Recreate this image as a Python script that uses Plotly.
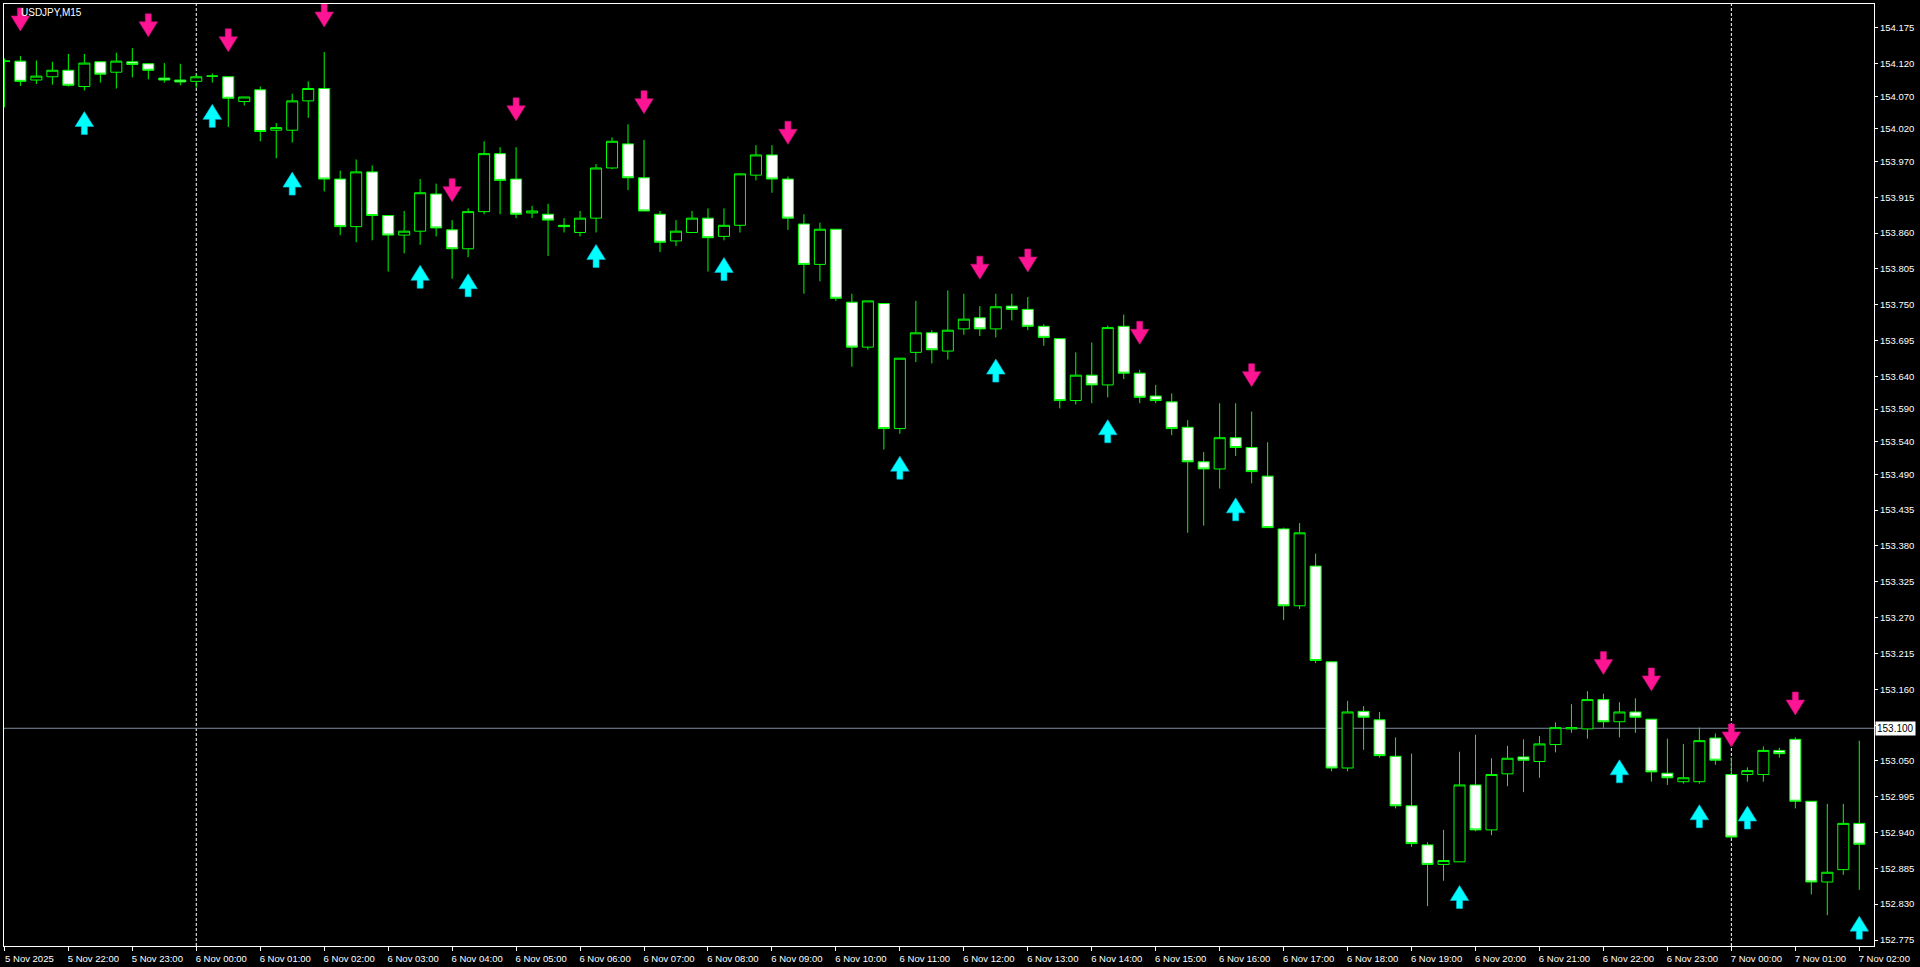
import plotly.graph_objects as go

# ---------------- data ----------------
time_labels = [
    "5 Nov 2025", "5 Nov 22:00", "5 Nov 23:00",
    "6 Nov 00:00", "6 Nov 01:00", "6 Nov 02:00", "6 Nov 03:00", "6 Nov 04:00", "6 Nov 05:00",
    "6 Nov 06:00", "6 Nov 07:00", "6 Nov 08:00", "6 Nov 09:00", "6 Nov 10:00", "6 Nov 11:00",
    "6 Nov 12:00", "6 Nov 13:00", "6 Nov 14:00", "6 Nov 15:00", "6 Nov 16:00", "6 Nov 17:00",
    "6 Nov 18:00", "6 Nov 19:00", "6 Nov 20:00", "6 Nov 21:00", "6 Nov 22:00", "6 Nov 23:00",
    "7 Nov 00:00", "7 Nov 01:00", "7 Nov 02:00",
]
bars_per_label = 4
day_start_bars = [12, 108]

opens = [
    154.124, 154.124, 154.095, 154.100, 154.110, 154.085, 154.123, 154.107, 154.123, 154.120,
    154.098, 154.095, 154.093, 154.101, 154.100, 154.062, 154.080, 154.018, 154.018, 154.063,
    154.082, 153.943, 153.870, 153.954, 153.887, 153.857, 153.863, 153.920, 153.865, 153.836,
    153.893, 153.982, 153.943, 153.891, 153.889, 153.872, 153.861, 153.883, 153.960, 153.997,
    153.945, 153.889, 153.848, 153.861, 153.883, 153.855, 153.872, 153.949, 153.980, 153.943,
    153.874, 153.812, 153.866, 153.754, 153.685, 153.752, 153.560, 153.677, 153.707, 153.679,
    153.713, 153.730, 153.713, 153.748, 153.743, 153.717, 153.698, 153.603, 153.642, 153.627,
    153.717, 153.645, 153.610, 153.601, 153.562, 153.509, 153.498, 153.546, 153.531, 153.487,
    153.406, 153.288, 153.349, 153.202, 153.039, 153.126, 153.113, 153.057, 152.981, 152.921,
    152.891, 152.895, 153.013, 152.944, 153.030, 153.056, 153.049, 153.075, 153.099, 153.099,
    153.144, 153.110, 153.125, 153.114, 153.031, 153.018, 153.018, 153.085, 153.029, 153.029,
    153.029, 153.066, 153.083, 152.988, 152.864, 152.883, 152.954,
]
highs = [
    154.128, 154.132, 154.125, 154.123, 154.135, 154.135, 154.124, 154.137, 154.144, 154.121,
    154.121, 154.120, 154.104, 154.105, 154.100, 154.069, 154.085, 154.029, 154.074, 154.093,
    154.138, 153.956, 153.973, 153.964, 153.887, 153.894, 153.943, 153.936, 153.880, 153.898,
    154.001, 153.992, 153.992, 153.902, 153.905, 153.883, 153.894, 153.966, 154.007, 154.027,
    154.003, 153.894, 153.880, 153.894, 153.898, 153.898, 153.952, 153.995, 153.995, 153.947,
    153.889, 153.876, 153.866, 153.767, 153.756, 153.752, 153.668, 153.756, 153.711, 153.772,
    153.767, 153.748, 153.767, 153.767, 153.762, 153.720, 153.698, 153.677, 153.692, 153.718,
    153.735, 153.650, 153.627, 153.614, 153.573, 153.524, 153.599, 153.599, 153.586, 153.539,
    153.408, 153.415, 153.368, 153.202, 153.142, 153.134, 153.125, 153.086, 153.061, 152.925,
    152.944, 153.064, 153.090, 153.054, 153.073, 153.083, 153.088, 153.109, 153.137, 153.157,
    153.153, 153.140, 153.146, 153.114, 153.084, 153.076, 153.101, 153.092, 153.055, 153.040,
    153.072, 153.070, 153.086, 152.988, 152.984, 152.984, 153.081,
]
lows = [
    154.053, 154.086, 154.089, 154.088, 154.085, 154.079, 154.091, 154.082, 154.099, 154.096,
    154.091, 154.087, 154.083, 154.091, 154.023, 154.056, 154.001, 153.975, 153.999, 154.037,
    153.924, 153.857, 153.846, 153.849, 153.801, 153.829, 153.842, 153.855, 153.790, 153.823,
    153.889, 153.889, 153.883, 153.883, 153.825, 153.861, 153.855, 153.861, 153.958, 153.926,
    153.894, 153.831, 153.840, 153.861, 153.801, 153.849, 153.861, 153.941, 153.922, 153.865,
    153.767, 153.786, 153.756, 153.655, 153.681, 153.528, 153.552, 153.662, 153.660, 153.666,
    153.704, 153.702, 153.700, 153.726, 153.711, 153.687, 153.591, 153.597, 153.599, 153.608,
    153.636, 153.599, 153.599, 153.550, 153.400, 153.411, 153.468, 153.518, 153.476, 153.408,
    153.266, 153.283, 153.200, 153.034, 153.034, 153.067, 153.055, 152.977, 152.918, 152.827,
    152.866, 152.895, 152.942, 152.936, 153.011, 153.002, 153.024, 153.063, 153.093, 153.084,
    153.101, 153.086, 153.093, 153.018, 153.013, 153.015, 153.015, 153.044, 152.931, 153.018,
    153.018, 153.055, 152.977, 152.845, 152.813, 152.875, 152.852,
]
closes = [
    154.124, 154.093, 154.101, 154.110, 154.087, 154.121, 154.104, 154.124, 154.119, 154.110,
    154.095, 154.092, 154.100, 154.101, 154.067, 154.069, 154.016, 154.022, 154.063, 154.082,
    153.943, 153.870, 153.954, 153.887, 153.857, 153.863, 153.922, 153.868, 153.836, 153.893,
    153.982, 153.941, 153.889, 153.894, 153.880, 153.870, 153.883, 153.960, 154.001, 153.945,
    153.894, 153.846, 153.863, 153.883, 153.853, 153.872, 153.951, 153.980, 153.943, 153.883,
    153.812, 153.866, 153.760, 153.685, 153.756, 153.560, 153.668, 153.707, 153.681, 153.711,
    153.728, 153.713, 153.747, 153.743, 153.717, 153.700, 153.603, 153.642, 153.627, 153.715,
    153.645, 153.608, 153.603, 153.560, 153.509, 153.498, 153.546, 153.531, 153.494, 153.408,
    153.288, 153.400, 153.204, 153.039, 153.125, 153.117, 153.058, 152.981, 152.923, 152.891,
    152.897, 153.013, 152.944, 153.029, 153.054, 153.051, 153.076, 153.101, 153.101, 153.144,
    153.110, 153.125, 153.117, 153.033, 153.024, 153.024, 153.081, 153.051, 152.933, 153.035,
    153.066, 153.061, 152.988, 152.864, 152.879, 152.954, 152.922,
]

sell_bars = [1, 9, 14, 20, 28, 32, 40, 49, 61, 64, 71, 78, 100, 103, 108, 112]
sell_levels = [154.188, 154.179, 154.156, 154.194, 153.926, 154.050, 154.061, 154.014,
               153.807, 153.818, 153.707, 153.642, 153.200, 153.175, 153.089, 153.138]
buy_bars = [5, 13, 18, 26, 29, 37, 45, 56, 62, 69, 77, 91, 101, 106, 109, 116]
buy_levels = [154.029, 154.040, 153.936, 153.793, 153.780, 153.825, 153.805, 153.500,
              153.649, 153.556, 153.436, 152.841, 153.034, 152.965, 152.963, 152.794]

price_ticks = ["154.175", "154.120", "154.070", "154.020", "153.970", "153.915", "153.860",
               "153.805", "153.750", "153.695", "153.640", "153.590", "153.540", "153.490",
               "153.435", "153.380", "153.325", "153.270", "153.215", "153.160", "153.105",
               "153.050", "152.995", "152.940", "152.885", "152.830", "152.775"]
current_price = 153.100
chart_title = "USDJPY,M15"

# ---------------- figure ----------------
bar_x = list(range(len(opens)))
GREEN = "#00FF00"
FONT = "Liberation Sans"

fig = go.Figure()
fig.add_trace(go.Candlestick(
    x=bar_x, open=opens, high=highs, low=lows, close=closes,
    increasing=dict(line=dict(color=GREEN, width=1), fillcolor="black"),
    decreasing=dict(line=dict(color=GREEN, width=1), fillcolor="white"),
    whiskerwidth=0, hoverinfo="skip", showlegend=False,
))

shapes = []
for b in day_start_bars:
    shapes.append(dict(type="line", xref="x", yref="paper", x0=b, x1=b, y0=0, y1=1,
                       line=dict(color="white", width=1, dash="3px,2px"), layer="below"))
shapes.append(dict(type="line", xref="paper", yref="y", x0=0, x1=1,
                   y0=current_price, y1=current_price,
                   line=dict(color="#7d8a9c", width=1), layer="below"))

DOWN_PATH = "M -3 11.5 L 3 11.5 L 3 3.5 L 9.3 3.5 L 0 -11.5 L -9.3 3.5 L -3 3.5 Z"
UP_PATH = "M -3 -11.5 L 3 -11.5 L 3 -3.5 L 9.3 -3.5 L 0 11.5 L -9.3 -3.5 L -3 -3.5 Z"
for b, lv in zip(sell_bars, sell_levels):
    shapes.append(dict(type="path", xref="x", yref="y", xsizemode="pixel", ysizemode="pixel",
                       xanchor=b, yanchor=lv, path=DOWN_PATH, fillcolor="#FF1493",
                       line=dict(color="#c0107a", width=0.6), layer="above"))
for b, lv in zip(buy_bars, buy_levels):
    shapes.append(dict(type="path", xref="x", yref="y", xsizemode="pixel", ysizemode="pixel",
                       xanchor=b, yanchor=lv, path=UP_PATH, fillcolor="#00FFFF",
                       line=dict(color="#00b8d8", width=0.6), layer="above"))

annotations = [
    dict(text=chart_title, xref="paper", yref="paper", x=0, y=1, xanchor="left", yanchor="top",
         xshift=15, yshift=-1, showarrow=False, font=dict(family=FONT, size=10, color="white")),
    dict(text=f"{current_price:.3f}", xref="paper", yref="y", x=1, y=current_price,
         xanchor="left", yanchor="middle", xshift=1, showarrow=False, bgcolor="white",
         borderpad=1, font=dict(family=FONT, size=10, color="black")),
]

fig.update_layout(
    width=1920, height=967,
    margin=dict(l=3, r=46, t=3, b=19),
    paper_bgcolor="black", plot_bgcolor="black",
    boxgap=0.31, boxgroupgap=0,
    shapes=shapes, annotations=annotations,
    showlegend=False, hovermode=False,
    xaxis=dict(
        range=[-0.025, 116.92], rangeslider=dict(visible=False),
        tickvals=[i * bars_per_label for i in range(len(time_labels))], ticktext=time_labels,
        ticks="outside", ticklen=4, tickcolor="white", tickwidth=1,
        tickfont=dict(family=FONT, size=9.5, color="white"), ticklabelshift=25,
        showgrid=False, zeroline=False, showline=True, linecolor="white", linewidth=1, mirror=True,
        fixedrange=True,
    ),
    yaxis=dict(
        side="right", range=[152.7658, 154.2117],
        tickvals=[float(t) for t in price_ticks], ticktext=price_ticks,
        ticks="outside", ticklen=3, tickcolor="white", tickwidth=1,
        tickfont=dict(family=FONT, size=9.5, color="white"),
        showgrid=False, zeroline=False, showline=True, linecolor="white", linewidth=1, mirror=True,
        fixedrange=True,
    ),
)

fig.write_html("out.html", config={"displayModeBar": False},
               post_script="document.body.style.margin='0';document.body.style.overflow='hidden';")
